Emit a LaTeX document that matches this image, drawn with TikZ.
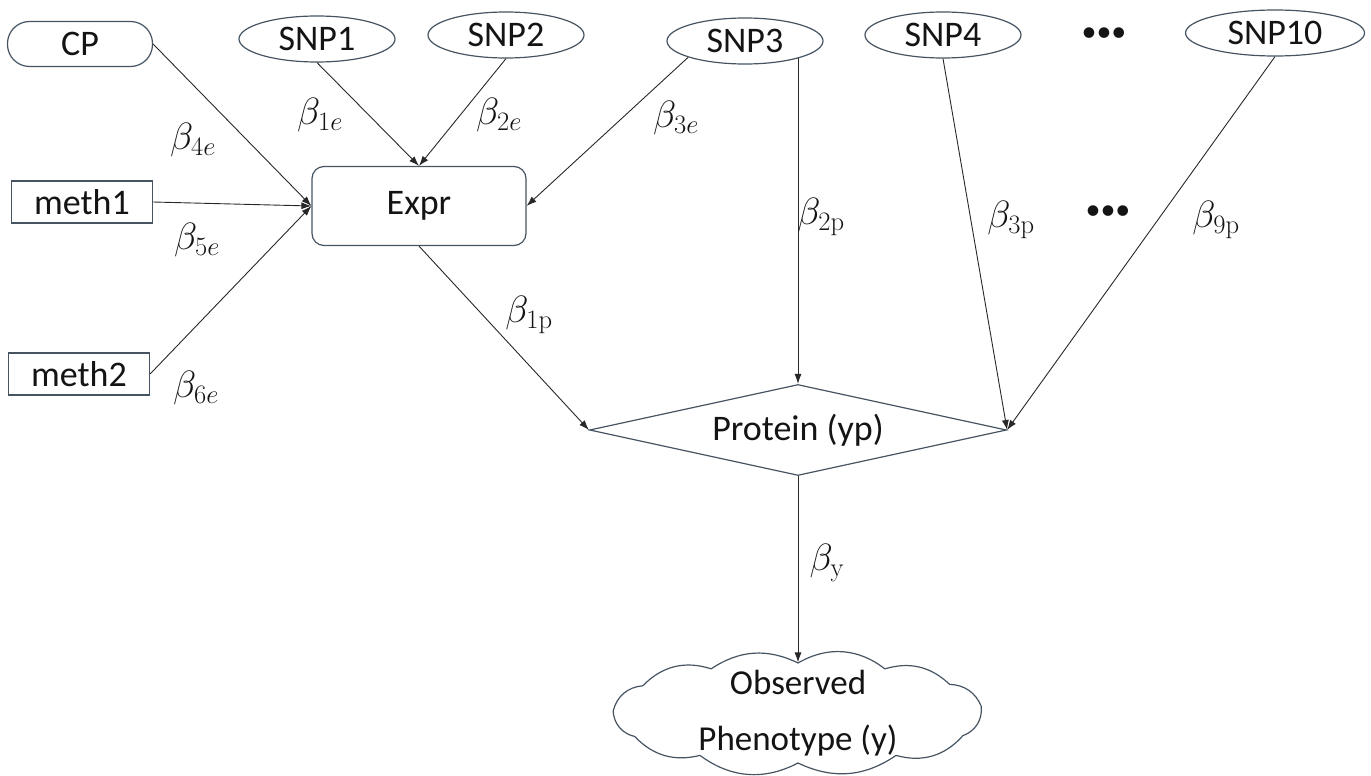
\RequirePackage{fix-cm}
\documentclass[tikz,border=0pt]{standalone}
\usepackage[no-math]{fontspec}
\setmainfont{Carlito}
\usetikzlibrary{shapes.geometric,arrows.meta}
\definecolor{nodeline}{RGB}{70,84,98}
\definecolor{edgecol}{RGB}{40,40,40}
\definecolor{txt}{RGB}{20,20,20}
\begin{document}
\begin{tikzpicture}[x=1pt,y=-1pt,
  base/.style={draw=nodeline, line width=1.2pt, inner sep=0pt, text=txt,
    font=\fontsize{36}{42}\selectfont},
  snp/.style={base, ellipse, minimum width=156pt, minimum height=46pt},
  box/.style={base, rectangle, minimum width=141pt, minimum height=42pt},
  conn/.style={draw=edgecol, line width=0.9pt, -{Latex[length=10pt,width=7pt]}},
  lab/.style={text=txt, inner sep=0pt, font=\fontsize{38}{44}\selectfont},
  dots/.style={text=txt, inner sep=0pt, font=\fontsize{30}{36}\selectfont},
  cloudline/.style={draw=nodeline, line width=1.2pt, line join=round}]
\useasboundingbox (0,0) rectangle (1371,776);
% nodes
\node[base, rectangle, rounded corners=22pt, minimum width=145pt, minimum height=45pt] (cp) at (80,44) {CP};
\node[box] (m1) at (82,202) {meth1};
\node[box] (m2) at (79,374) {meth2};
\node[snp] (s1) at (317,39) {SNP1};
\node[snp] (s2) at (506,35) {SNP2};
\node[snp] (s3) at (745,41) {SNP3};
\node[snp] (s4) at (943,35) {SNP4};
\node[snp, minimum width=179pt] (s10) at (1275,33) {SNP10};
\node[dots] (d1) at (1104,35) {•••};
\node[base, rectangle, rounded corners=12pt, minimum width=214pt, minimum height=79pt] (expr) at (419,206) {Expr};
\node[base, diamond, aspect=4.58, minimum width=417pt, minimum height=91pt] (prot) at (798,430) {Protein (yp)};
\node[base, draw=none, minimum height=100pt, align=center,
  font=\fontsize{35}{56}\selectfont] (obs) at (798,713) {Observed\\Phenotype (y)};
% cloud outline around the phenotype node
\foreach \i/\a in {0/8,1/35,2/62,3/90,4/118,5/147,6/178,7/208,8/238,9/270,10/302,11/333}
  \coordinate (cl\i) at ([shift={({185*cos(\a)},{-50*sin(\a)})}]obs.center);
\draw[cloudline] (cl0) to[bend right=32] (cl1) to[bend right=30] (cl2)
  to[bend right=34] (cl3) to[bend right=30] (cl4) to[bend right=32] (cl5)
  to[bend right=36] (cl6) to[bend right=36] (cl7) to[bend right=30] (cl8)
  to[bend right=32] (cl9) to[bend right=30] (cl10) to[bend right=32] (cl11)
  to[bend right=38] (cl0);
% connectors
\draw[conn] (cp.east) -- (expr.west);
\draw[conn] (m1.east) -- (expr.west);
\draw[conn] (m2.east) -- (expr.west);
\draw[conn] (s1.south) -- (expr.north);
\draw[conn] (s2.south) -- (expr.north);
\draw[conn] (s3.196) -- (expr.east);
\draw[conn] (prot.north |- s3.343) -- (prot.north);
\draw[conn] (s4.south) -- (prot.east);
\draw[conn] (s10.south) -- (prot.east);
\draw[conn] (expr.south) -- (prot.west);
\draw[conn] (prot.south) -- (obs.north);
% labels
\node[lab] (l4e) at (193,140) {$\beta_{4e}$};
\node[lab] (l1e) at (320,115) {$\beta_{1e}$};
\node[lab] (l2e) at (499,115) {$\beta_{2e}$};
\node[lab] (l3e) at (676,118) {$\beta_{3e}$};
\node[lab] (l5e) at (197,240) {$\beta_{5e}$};
\node[lab] (l6e) at (196,388) {$\beta_{6e}$};
\node[lab] (l1p) at (529,315) {$\beta_{1\mathrm{p}}$};
\node[lab] (l2p) at (821,217) {$\beta_{2\mathrm{p}}$};
\node[lab] (l3p) at (1011,220) {$\beta_{3\mathrm{p}}$};
\node[dots] (d2) at (1108,213) {•••};
\node[lab] (l9p) at (1216,220) {$\beta_{9\mathrm{p}}$};
\node[lab] (ly) at (827,563) {$\beta_{\mathrm{y}}$};
\end{tikzpicture}
\end{document}
